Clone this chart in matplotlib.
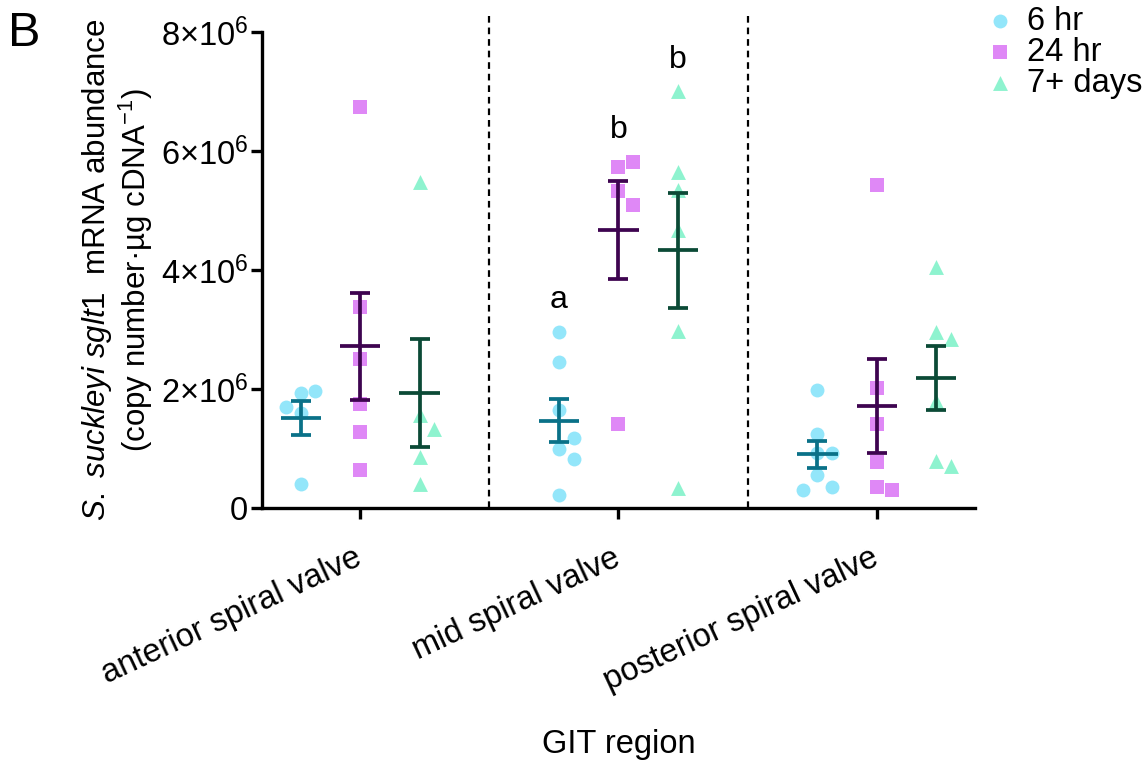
import matplotlib
matplotlib.use("Agg")
import matplotlib.pyplot as plt
import numpy as np

plt.rcParams['font.family'] = ['Liberation Sans', 'DejaVu Sans']
plt.rcParams['mathtext.fontset'] = 'custom'
plt.rcParams['mathtext.rm'] = 'Liberation Sans'
plt.rcParams['mathtext.it'] = 'Liberation Sans:italic'

regions = ['anterior spiral valve', 'mid spiral valve', 'posterior spiral valve']
groups = ['6 hr', '24 hr', '7+ days']

# copy number per ug cDNA, in units of 1e6
h6 = [
    [1.93, 1.97, 1.69, 1.59, 0.41],
    [2.96, 2.46, 1.65, 1.00, 1.17, 0.82, 0.22],
    [1.98, 1.25, 0.93, 0.93, 0.55, 0.35, 0.31],
]
h24 = [
    [3.38, 2.50, 1.75, 1.28, 0.64, 6.74],
    [5.73, 5.82, 5.33, 5.09, 1.41],
    [5.43, 2.01, 1.42, 0.77, 0.35, 0.31],
]
d7 = [
    [1.57, 1.33, 0.85, 0.41, 5.48],
    [7.00, 5.64, 5.34, 4.68, 2.97, 0.34],
    [4.05, 2.95, 2.84, 1.79, 0.79, 0.71],
]
letters = [None, ['a', 'b', 'b'], None]

point_colors = ['#93e6fa', '#df88f6', '#8ef3cf']
bar_colors = ['#0a7188', '#3e0450', '#0b4a36']
markers = ['o', 's', '^']
offsets = [-0.23, 0.0, 0.23]


def spread(vals, step=0.057, thresh=0.29):
    # simple column scatter: nudge points sideways when they would overlap
    placed = []
    xs = []
    for v in vals:
        for slot in (0, 1, -1, 2, -2):
            if all(not (s == slot and abs(v - pv) < thresh) for s, pv in placed):
                break
        placed.append((slot, v))
        xs.append(slot * step)
    return np.array(xs)


fig = plt.figure(figsize=(11.47, 7.63), dpi=100)
ax = fig.add_axes([0.2284, 0.3342, 0.6216, 0.6239])

for gi, series in enumerate([h6, h24, d7]):
    for ri in range(len(regions)):
        vals = np.array(series[ri])
        x0 = ri + offsets[gi]
        ax.scatter(x0 + spread(vals), vals * 1e6, marker=markers[gi],
                   s=100 if gi != 2 else 115, color=point_colors[gi],
                   linewidths=0, zorder=2,
                   label=groups[gi] if ri == 0 else None)
        m = vals.mean()
        sem = vals.std(ddof=1) / np.sqrt(len(vals))
        ax.errorbar(x0, m * 1e6, yerr=sem * 1e6, fmt='none', ecolor=bar_colors[gi],
                    elinewidth=2.7, capsize=7.5, capthick=2.7, zorder=3)
        ax.plot([x0 - 0.078, x0 + 0.078], [m * 1e6, m * 1e6], color=bar_colors[gi],
                lw=2.7, solid_capstyle='butt', zorder=3)
        if letters[ri] is not None:
            ax.annotate(letters[ri][gi], (x0, vals.max() * 1e6), xytext=(0, 12),
                        textcoords='offset points', ha='center', va='bottom',
                        fontsize=23)

for xd in (0.5, 1.5):
    ax.plot([xd, xd], [0, 8.3e6], color='black', lw=1.6, ls=(0, (3, 2.2)),
            clip_on=False, zorder=1)

ax.set_xlim(-0.38, 2.38)
ax.set_ylim(0, 8e6)
ax.set_xticks(range(len(regions)))
ax.set_xticklabels(regions, rotation=25, ha='right', va='center',
                   rotation_mode='anchor', fontsize=23.5)
ax.set_yticks([0, 2e6, 4e6, 6e6, 8e6])
ax.set_yticklabels(['0', '2×10$^{6}$', '4×10$^{6}$', '6×10$^{6}$', '8×10$^{6}$'],
                   fontsize=23.5)
for s in ('top', 'right'):
    ax.spines[s].set_visible(False)
for s in ('left', 'bottom'):
    ax.spines[s].set_linewidth(2.4)
ax.tick_params(axis='both', width=2.4, length=8, direction='out')
ax.tick_params(axis='x', pad=27)
ax.tick_params(axis='y', pad=2)

ax.set_ylabel(r'$\it{S.\ suckleyi\ sglt1}$  mRNA abundance' + '\n'
              + r'(copy number·µg cDNA$^{-1}$)', fontsize=22.5, labelpad=4,
              linespacing=1.1)
ax.set_xlabel('GIT region', fontsize=23.5)
ax.xaxis.set_label_coords(0.5, -0.465)

ax.legend(loc='upper left', bbox_to_anchor=(0.99, 1.083), frameon=False,
          fontsize=23.5, handletextpad=0.2, labelspacing=0.0, borderaxespad=0,
          handlelength=1.2)

fig.text(0.007, 0.985, 'B', fontsize=35, va='top', ha='left')

fig.savefig('out.png', dpi=100)
